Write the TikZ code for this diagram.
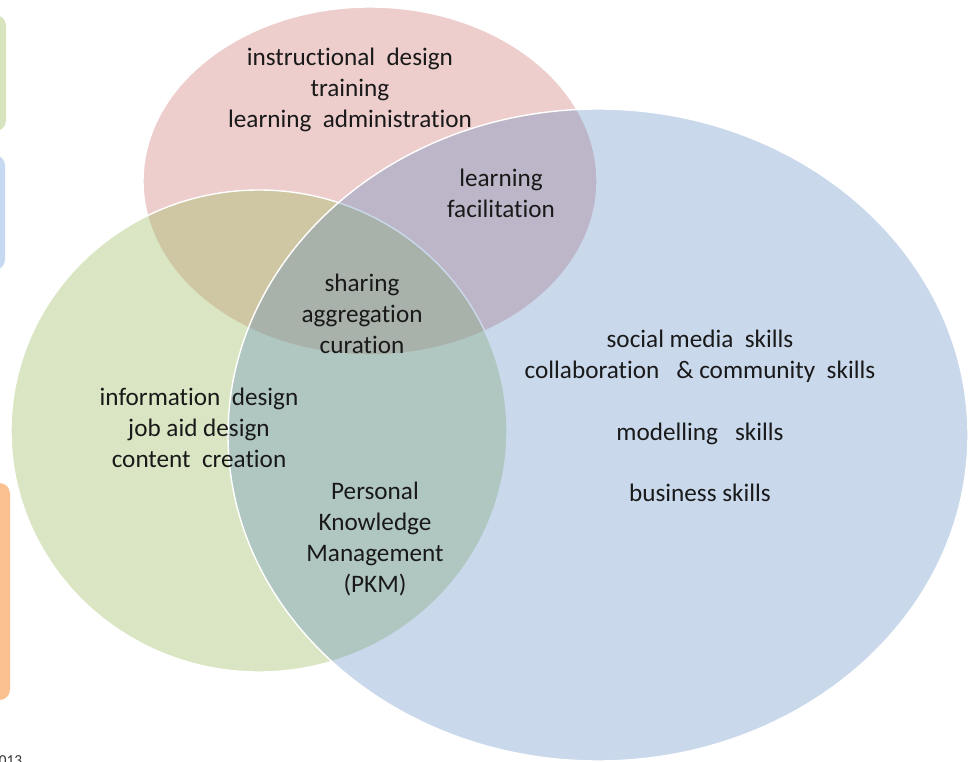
\documentclass[tikz,border=0pt]{standalone}
\usepackage{fontspec}
\setmainfont[Ligatures=CommonOff]{Carlito}
\usepackage{xcolor}

\definecolor{rosered}{RGB}{192,80,77}
\definecolor{leafgreen}{RGB}{155,187,89}
\definecolor{skyblue}{RGB}{79,129,189}
\definecolor{tabgreen}{RGB}{215,228,189}
\definecolor{tabblue}{RGB}{198,217,241}
\definecolor{taborange}{RGB}{250,192,144}

\tikzset{
  setbubble/.style={draw=white, line width=1.2pt},
  skilltext/.style={align=center, text=black!90, font=\fontsize{21.5}{26.4}\selectfont},
  sidetab/.style={rounded corners=9pt}
}

\begin{document}
\begin{tikzpicture}[x=0.03cm, y=-0.03cm]
\useasboundingbox (0,0) rectangle (970,762);
\fill[white] (0,0) rectangle (970,762);

		% tabs cut off at the left edge
		\fill[sidetab, tabgreen] (-30,15) rectangle (6,131);
		\fill[sidetab, tabblue] (-30,155) rectangle (5,270);
		\fill[sidetab, taborange] (-30,483) rectangle (10,700);

% the three sets
\draw[setbubble, fill=rosered, fill opacity=0.28] (370,181) ellipse [x radius=227, y radius=174];
\draw[setbubble, fill=leafgreen, fill opacity=0.36] (259,431) ellipse [x radius=248, y radius=241];
\draw[setbubble, fill=skyblue, fill opacity=0.3] (598,435) ellipse [x radius=370, y radius=326];

\node[skilltext] (design) at (350,90) {instructional~ design\\training\\learning~ administration};
\node[skilltext] (facil) at (501,193) {learning\\facilitation};
\node[skilltext] (curate) at (362,314) {sharing\\aggregation\\curation};
\node[skilltext] (content) at (199,428) {information~ design\\job aid design\\content~ creation};
\node[skilltext] (pkm) at (375,539) {Personal\\Knowledge\\Management\\(PKM)};
\node[skilltext] (social) at (700,416) {social media~ skills\\collaboration~~ \& community~ skills\\[26.4pt]modelling~~ skills\\[26.4pt]business skills};

\node[font=\fontsize{13}{15}\selectfont, anchor=north west, text=black!80, inner sep=0pt] (year) at (-9,755) {2013};
\end{tikzpicture}
\end{document}
